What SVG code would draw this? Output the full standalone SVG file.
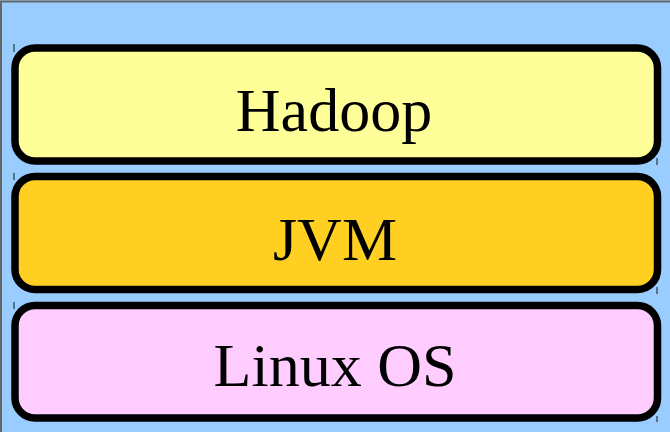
<svg xmlns="http://www.w3.org/2000/svg" width="670" height="432" viewBox="0 0 670 432">
<style>
.layer{stroke:#000;stroke-width:7.5}
.lbl{font-family:"Liberation Serif","Times New Roman",serif;font-size:62px;fill:#000;text-anchor:middle}
.tick{stroke:#445566;stroke-width:1.5}
</style>
<rect x="0" y="0" width="670" height="432" fill="#99CCFF"/>
<path d="M1 432 V1.5 H670" fill="none" stroke="#666" stroke-width="2"/>
<g id="ticks">
<line class="tick" x1="14" y1="44" x2="14" y2="52"/>
<line class="tick" x1="14" y1="173" x2="14" y2="180"/>
<line class="tick" x1="14" y1="302" x2="14" y2="309"/>
<line class="tick" x1="657" y1="158" x2="657" y2="165"/>
<line class="tick" x1="657" y1="287" x2="657" y2="294"/>
<line class="tick" x1="657" y1="416" x2="657" y2="422"/>
</g>
<g id="hadoop">
<rect class="layer" x="15" y="48" width="642.5" height="113" rx="20" fill="#FFFF99"/>
<text class="lbl" x="334" y="131">Hadoop</text>
</g>
<g id="jvm">
<rect class="layer" x="15" y="176.5" width="642.5" height="113" rx="20" fill="#FFD022"/>
<text class="lbl" x="335" y="260">JVM</text>
</g>
<g id="linux">
<rect class="layer" x="15" y="305.5" width="642.5" height="112.5" rx="20" fill="#FFCCFF"/>
<text class="lbl" x="335" y="386">Linux OS</text>
</g>
<g id="connectors"/>
</svg>
